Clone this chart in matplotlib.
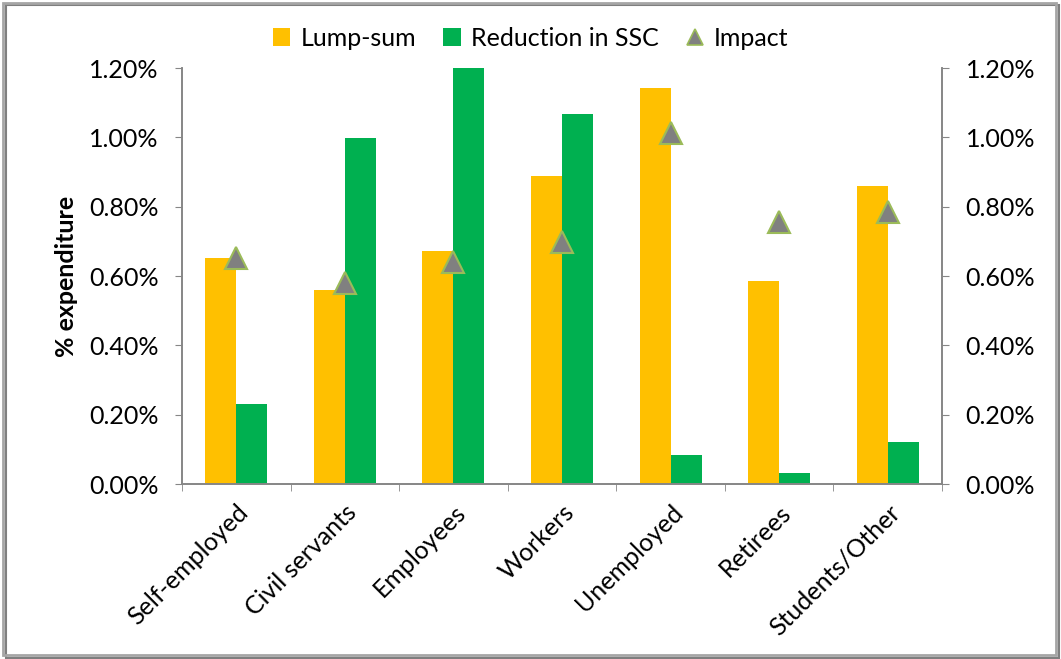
import numpy as np
import matplotlib.pyplot as plt
from matplotlib.patches import Rectangle
from matplotlib.ticker import FuncFormatter

categories = ['Self-employed', 'Civil servants', 'Employees', 'Workers',
              'Unemployed', 'Retirees', 'Students/Other']
lump_sum = [0.652, 0.560, 0.672, 0.888, 1.142, 0.586, 0.860]
reduction_ssc = [0.231, 0.998, 1.200, 1.067, 0.084, 0.032, 0.121]
impact = [0.652, 0.580, 0.640, 0.698, 1.012, 0.755, 0.785]
yticks = [0.0, 0.2, 0.4, 0.6, 0.8, 1.0, 1.2]

plt.rcParams['font.family'] = ['Lato', 'DejaVu Sans']
fs = 18

fig = plt.figure(figsize=(10.61, 6.59), dpi=100)
ax = fig.add_axes([182 / 1061, 1 - 484 / 659, 760 / 1061, 416 / 659])

x = np.arange(len(categories))
w = 0.285
b1 = ax.bar(x - w / 2, lump_sum, w, color='#FFC000', label='Lump-sum')
b2 = ax.bar(x + w / 2, reduction_ssc, w, color='#00B050', label='Reduction in SSC')
ax.plot(x, impact, linestyle='none', marker='^', markersize=16,
        markerfacecolor='#808080', markeredgecolor='#9BBB59',
        markeredgewidth=1.5, label='Impact')

ax.set_xlim(-0.5, len(categories) - 0.5)
ax.set_ylim(0, 1.2)
pct = FuncFormatter(lambda v, p: '%.2f%%' % v)
ax.set_yticks(yticks)
ax.yaxis.set_major_formatter(pct)
ax.set_xticks(x)
ax.set_xticklabels(categories, rotation=45, ha='right', rotation_mode='anchor',
                   fontsize=fs)
ax.set_xticks(np.arange(-0.5, len(categories)), minor=True)
ax.tick_params(axis='x', which='major', length=0, pad=12)
ax.tick_params(axis='x', which='minor', length=5, color='#868686')
ax.tick_params(axis='y', labelsize=fs, length=5, color='#868686', pad=12)
ax.set_ylabel('% expenditure', fontsize=fs, fontweight='bold', labelpad=8)

ax2 = ax.twinx()
ax2.set_ylim(0, 1.2)
ax2.set_yticks(yticks)
ax2.yaxis.set_major_formatter(pct)
ax2.tick_params(axis='y', labelsize=fs, length=5, color='#868686', pad=12)

for a in (ax, ax2):
    a.spines['top'].set_visible(False)
    for s in ('left', 'right', 'bottom'):
        a.spines[s].set_color('#868686')
        a.spines[s].set_linewidth(1.2)

l3_leg, = ax.plot([], [], linestyle='none', marker='^', markersize=11,
                  markerfacecolor='#808080', markeredgecolor='#9BBB59',
                  markeredgewidth=1.2)
ax2.legend([b1, b2, l3_leg], ['Lump-sum', 'Reduction in SSC', 'Impact'],
           loc='center', bbox_to_anchor=(0.5, 1 - 38 / 659), bbox_transform=fig.transFigure,
           ncol=3, frameon=False, fontsize=fs, handlelength=0.7, handleheight=0.7,
           handletextpad=0.4, columnspacing=1.1)

fig.patches.append(Rectangle((0.003, 0.006), 0.992, 0.99, transform=fig.transFigure,
                             fill=False, edgecolor='#A6A6A6', linewidth=2))
fig.patches.append(Rectangle((0.006, 0.002), 0.992, 0.99, transform=fig.transFigure,
                             fill=False, edgecolor='#7F7F7F', linewidth=1.5, zorder=-1))

fig.savefig('out.png', dpi=100)
